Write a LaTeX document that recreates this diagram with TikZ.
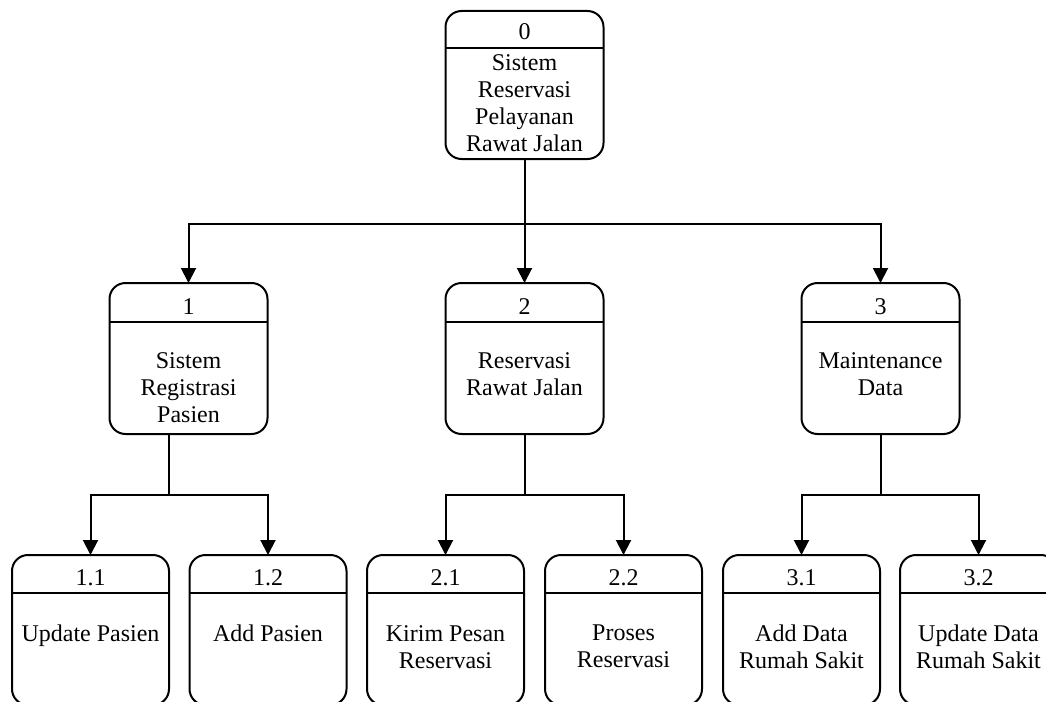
\documentclass[tikz,border=0pt]{standalone}
\usepackage{fontspec}
\setmainfont{Liberation Serif}
\usetikzlibrary{arrows.meta,calc}

\begin{document}
\begin{tikzpicture}[x=1pt,y=-1pt,
  proc/.style={draw, line width=2pt, rounded corners=16pt, outer sep=0pt,
    inner sep=0pt, minimum width=158pt},
  divider/.style={line width=2pt},
  numtxt/.style={font=\fontsize{24}{27}\selectfont, anchor=base, inner sep=0pt},
  bodytxt/.style={font=\fontsize{24}{27}\selectfont, align=center, anchor=north, inner sep=0pt},
  link/.style={line width=2pt},
  arr/.style={line width=2pt, -{Triangle[length=15pt,width=15pt]}}]

\path[use as bounding box, clip] (0,0) rectangle (1046,701);

% level 0
\node[proc, minimum height=148pt] (p0) at (524.5,85) {};
\draw[divider] ($(p0.north west)+(0,37)$) -- ($(p0.north east)+(0,37)$);
\node[numtxt] (n0) at (524.5,40) {0};
\node[bodytxt] (t0) at (524.5,54) {Sistem\\Reservasi\\Pelayanan\\Rawat Jalan};

% level 1
\node[proc, minimum height=151pt] (p1) at (188.5,358.5) {};
\node[proc, minimum height=151pt] (p2) at (524.5,358.5) {};
\node[proc, minimum height=151pt] (p3) at (880.5,358.5) {};
\foreach \p in {p1,p2,p3}
  \draw[divider] ($(\p.north west)+(0,39)$) -- ($(\p.north east)+(0,39)$);
\node[numtxt] (n1) at (188.5,314) {1};
\node[numtxt] (n2) at (524.5,314) {2};
\node[numtxt] (n3) at (880.5,314) {3};
\node[bodytxt] (t1) at (188.5,352) {Sistem\\Registrasi\\Pasien};
\node[bodytxt] (t2) at (524.5,352) {Reservasi\\Rawat Jalan};
\node[bodytxt] (t3) at (880.5,352) {Maintenance\\Data};

% level 2
\node[proc, minimum height=150pt, minimum width=157pt] (p11) at (90.5,630) {};
\node[proc, minimum height=150pt, minimum width=157pt] (p12) at (268,630) {};
\node[proc, minimum height=150pt, minimum width=157pt] (p21) at (445.5,630) {};
\node[proc, minimum height=150pt, minimum width=157pt] (p22) at (623.5,630) {};
\node[proc, minimum height=150pt, minimum width=157pt] (p31) at (801.5,630) {};
\node[proc, minimum height=150pt, minimum width=157pt] (p32) at (978.5,630) {};
\foreach \p in {p11,p12,p21,p22,p31,p32}
  \draw[divider] ($(\p.north west)+(0,38)$) -- ($(\p.north east)+(0,38)$);
\node[numtxt] (n11) at (90.5,585) {1.1};
\node[numtxt] (n12) at (268,585) {1.2};
\node[numtxt] (n21) at (445.5,585) {2.1};
\node[numtxt] (n22) at (623.5,585) {2.2};
\node[numtxt] (n31) at (801.5,585) {3.1};
\node[numtxt] (n32) at (978.5,585) {3.2};
\node[bodytxt] (t11) at (90.5,625) {Update Pasien};
\node[bodytxt] (t12) at (268,625) {Add Pasien};
\node[bodytxt] (t21) at (445.5,625) {Kirim Pesan\\Reservasi};
\node[bodytxt] (t22) at (623.5,625) {Proses\\Reservasi};
\node[bodytxt] (t31) at (801.5,625) {Add Data\\Rumah Sakit};
\node[bodytxt] (t32) at (978.5,625) {Update Data\\Rumah Sakit};

% connectors
\coordinate (j0) at (524.5,224);
\coordinate (j1) at (169,495);
\coordinate (j2) at (524.5,495);
\coordinate (j3) at (880.5,495);

\draw[link] (p0.south) -- (j0);
\draw[arr] (j0) -| (p1.north);
\draw[arr] (j0) -- (p2.north);
\draw[arr] (j0) -| (p3.north);

\draw[link] (j1 |- p1.south) -- (j1);
\draw[arr] (j1) -| (p11.north);
\draw[arr] (j1) -| (p12.north);

\draw[link] (p2.south) -- (j2);
\draw[arr] (j2) -| (p21.north);
\draw[arr] (j2) -| (p22.north);

\draw[link] (p3.south) -- (j3);
\draw[arr] (j3) -| (p31.north);
\draw[arr] (j3) -| (p32.north);
\end{tikzpicture}
\end{document}
